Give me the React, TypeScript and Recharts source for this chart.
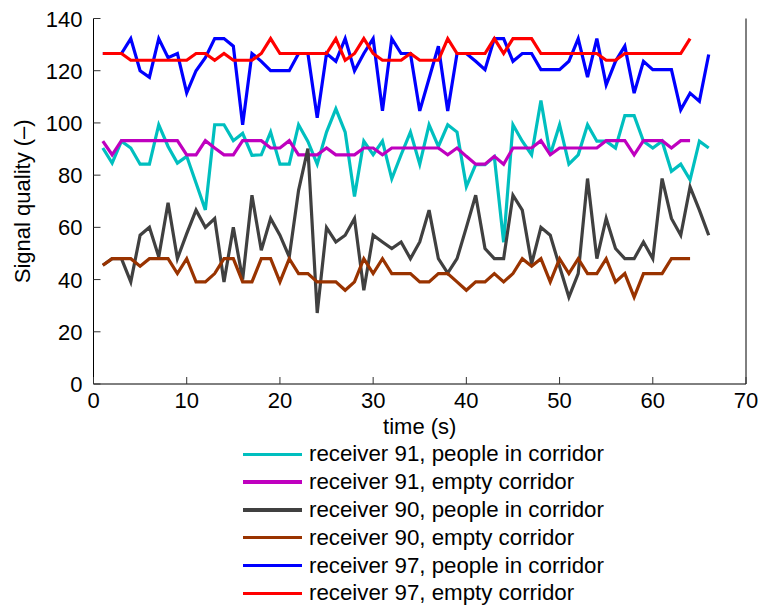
import React from 'react';
import { LineChart, Line, XAxis, YAxis, Legend } from 'recharts';

// time stamps (s)
const time = [
  1, 2, 3, 4, 5, 6, 7, 8, 9, 10, 11, 12, 13, 14, 15, 16, 17, 18, 19, 20, 21, 22,
  23, 24, 25, 26, 27, 28, 29, 30, 31, 32, 33, 34, 35, 36, 37, 38, 39, 40, 41, 42,
  43, 44, 45, 46, 47, 48, 49, 50, 51, 52, 53, 54, 55, 56, 57, 58, 59, 60, 61, 62,
  63, 64, 65, 66,
];

const rx91People = [
  90.4, 84.6, 93, 90.4, 84.2, 84.2, 99.3, 91, 84.6, 87.2, 77, 66.7, 99.3, 99.3, 93.2, 96,
  87.6, 87.8, 96.5, 84.2, 84.2, 99.3, 92.9, 84.2, 96.5, 105.4, 96.5, 71.8, 93, 87.8, 93, 78.6,
  87.8, 96.5, 84.2, 99.3, 91, 99.3, 96.5, 75.6, 84, 84, 87, 54.3, 99.3, 93, 87.8, 108.6,
  87.8, 99.3, 84.2, 87.8, 99.3, 93, 93, 90.4, 102.8, 102.8, 93, 90.4, 93, 81.5, 84.2, 78.2,
  93, 90.4,
];

const rx91Empty = [
  93, 87.8, 93.2, 93.2, 93.2, 93.2, 93.2, 93.2, 93.2, 87.8, 87.8, 93.2, 90.4, 87.8, 87.8, 93.2,
  93.2, 93.2, 90.4, 90.4, 93.2, 87.8, 87.8, 87.8, 90.4, 87.8, 87.8, 87.8, 90.4, 90.4, 87.8, 90.4,
  90.4, 90.4, 90.4, 90.4, 90.4, 87.8, 90.4, 87.2, 84.2, 84.2, 87.2, 84.2, 90.4, 90.4, 90.4, 93.2,
  87.8, 90.4, 90.4, 90.4, 90.4, 90.4, 93.2, 93.2, 93.2, 87.8, 93.2, 93.2, 93.2, 90.4, 93.2, 93.2,
];

const rx90People = [
  45.5, 48, 48, 39.1, 57, 60, 48.7, 69.4, 48, 57.6, 66.6, 60, 63.4, 39.1, 60, 40,
  72.3, 51.2, 63.4, 57, 48.7, 74.2, 90.2, 27.2, 59.9, 54.4, 57, 63.4, 35.9, 57, 54.4, 51.9,
  54.4, 48, 54.4, 66.6, 48, 42.5, 48, 60, 72.3, 51.9, 48, 48, 72.3, 66.6, 46, 60,
  57, 45, 33.3, 42.3, 78.7, 48, 63.4, 51.9, 48, 48, 54.4, 48, 78.7, 63.4, 57, 75.5,
  66.6, 57,
];

const rx90Empty = [
  45.5, 48, 48, 48, 45.1, 48, 48, 48, 42.3, 48, 39.1, 39.1, 42.3, 48, 48, 39.1,
  39.1, 48, 48, 39.1, 48, 42.3, 42.3, 39.1, 39.1, 39.1, 35.9, 39.1, 48, 42.3, 48, 42.3,
  42.3, 42.3, 39.1, 39.1, 42.3, 42.3, 39.1, 35.9, 39.1, 39.1, 42.3, 39.1, 42.3, 48, 45.1, 48,
  39.1, 48, 42.3, 48, 42.3, 42.3, 48, 39.1, 42.3, 33.3, 42.3, 42.3, 42.3, 48, 48, 48,
];

const rx97People = [
  126.6, 126.6, 126.6, 132.3, 120, 117.5, 132.3, 125, 126.6, 111.5, 120, 125, 132.3, 132.3, 129.4, 99.3,
  126.6, 123.6, 120, 120, 120, 126.6, 126.6, 102, 126.6, 123.6, 132.3, 120, 126.6, 132.3, 104.6, 132.3,
  126.6, 126.6, 104.6, 117, 129.4, 104.6, 126.6, 126.6, 123.6, 120.4, 132.3, 132.3, 123.6, 126.6, 126.6, 120.4,
  120.4, 120.4, 123.6, 132.3, 117.5, 132.3, 114.6, 123.6, 129.4, 111.4, 123.6, 120.4, 120.4, 120.4, 105, 111.4,
  108.3, 126.2,
];

const rx97Empty = [
  126.6, 126.6, 126.6, 124, 124, 124, 124, 124, 124, 124, 126.6, 126.6, 124, 126.6, 124, 124,
  124, 126.6, 132.3, 126.6, 126.6, 126.6, 126.6, 126.6, 126.6, 132.3, 124, 126.6, 132.3, 126.6, 124, 124,
  124, 126.6, 124, 124, 124, 132.3, 126.6, 126.6, 126.6, 126.6, 132.3, 126.6, 132.3, 132.3, 132.3, 126.6,
  126.6, 126.6, 126.6, 126.6, 126.6, 126.6, 124, 124, 126.6, 126.6, 126.6, 126.6, 126.6, 126.6, 126.6, 132.3,
];

const xTicks = [0, 10, 20, 30, 40, 50, 60, 70];
const yTicks = [0, 20, 40, 60, 80, 100, 120, 140];

const series = [
  { key: 'rx91People', name: 'receiver 91, people in corridor', color: '#00BFBF', values: rx91People },
  { key: 'rx91Empty', name: 'receiver 91, empty corridor', color: '#BF00BF', values: rx91Empty },
  { key: 'rx90People', name: 'receiver 90, people in corridor', color: '#404040', values: rx90People },
  { key: 'rx90Empty', name: 'receiver 90, empty corridor', color: '#993300', values: rx90Empty },
  { key: 'rx97People', name: 'receiver 97, people in corridor', color: '#0000FF', values: rx97People },
  { key: 'rx97Empty', name: 'receiver 97, empty corridor', color: '#FF0000', values: rx97Empty },
];

const data = time.map((t, i) => {
  const row: Record<string, number | undefined> = { time: t };
  series.forEach((s) => {
    row[s.key] = s.values[i];
  });
  return row;
});

const FONT = '"Liberation Sans", Arial, Helvetica, sans-serif';
const TICK_LEN = 7;
const TICK_COLOR = '#333';

const BottomTick = (props: any) => {
  const { x, y, payload } = props;
  return (
    <g>
      <line x1={x} y1={y} x2={x} y2={y - TICK_LEN} stroke={TICK_COLOR} />
      <text x={x} y={y + 24} textAnchor="middle" fontSize={22} fontFamily={FONT} fill="#000">
        {payload.value}
      </text>
    </g>
  );
};

const TopTick = (props: any) => {
  const { x, y } = props;
  return <line x1={x} y1={y} x2={x} y2={y + TICK_LEN} stroke={TICK_COLOR} />;
};

const LeftTick = (props: any) => {
  const { x, y, payload } = props;
  return (
    <g>
      <line x1={x} y1={y} x2={x + TICK_LEN} y2={y} stroke={TICK_COLOR} />
      <text x={x - 11} y={y + 8} textAnchor="end" fontSize={22} fontFamily={FONT} fill="#000">
        {payload.value}
      </text>
    </g>
  );
};

const RightTick = (props: any) => {
  const { x, y } = props;
  return <line x1={x} y1={y} x2={x - TICK_LEN} y2={y} stroke={TICK_COLOR} />;
};

const renderLegend = () => (
  <div style={{ fontFamily: FONT, fontSize: 22.3, color: '#000' }}>
    {series.map((s) => (
      <div key={s.key} style={{ display: 'flex', alignItems: 'center', height: 27.8 }}>
        <span
          style={{ display: 'inline-block', width: 59.4, height: 3.5, background: s.color, marginRight: 6.6 }}
        />
        <span style={{ whiteSpace: 'nowrap', lineHeight: '27.8px' }}>{s.name}</span>
      </div>
    ))}
  </div>
);

export default function App() {
  return (
    <div style={{ width: 763, height: 607, padding: '8px 0 8px 8px', boxSizing: 'border-box', overflow: 'hidden', background: '#fff' }}>
      <style>{'html, body { margin: 0; padding: 0; overflow: hidden; }'}</style>
      <LineChart
        width={755}
        height={591}
        data={data}
        margin={{ top: 10.5, right: 16, bottom: 165, left: 0 }}
      >
        <XAxis
          dataKey="time"
          type="number"
          domain={[0, 70]}
          ticks={xTicks}
          interval={0}
          height={50}
          tickSize={0}
          tickMargin={0}
          tickLine={false}
          axisLine={{ stroke: '#000', strokeWidth: 1 }}
          tick={BottomTick}
          label={{ value: 'time (s)', position: 'insideBottom', offset: 0, fontSize: 22, fill: '#000', fontFamily: FONT }}
        />
        <XAxis
          xAxisId="top"
          orientation="top"
          dataKey="time"
          type="number"
          domain={[0, 70]}
          ticks={xTicks}
          interval={0}
          height={0}
          tickSize={0}
          tickMargin={0}
          tickLine={false}
          axisLine={{ stroke: '#000', strokeWidth: 1 }}
          tick={TopTick}
        />
        <YAxis
          type="number"
          domain={[0, 140]}
          ticks={yTicks}
          interval={0}
          width={85.5}
          tickSize={0}
          tickMargin={0}
          tickLine={false}
          axisLine={{ stroke: '#000', strokeWidth: 1 }}
          tick={LeftTick}
          label={{
            value: 'Signal quality (–)',
            angle: -90,
            position: 'insideLeft',
            offset: 14,
            fontSize: 22,
            fill: '#000',
            fontFamily: FONT,
            style: { textAnchor: 'middle' },
          }}
        />
        <YAxis
          yAxisId="right"
          orientation="right"
          type="number"
          domain={[0, 140]}
          ticks={yTicks}
          interval={0}
          width={1}
          tickSize={0}
          tickMargin={0}
          tickLine={false}
          axisLine={{ stroke: '#000', strokeWidth: 1 }}
          tick={RightTick}
        />
        <Legend
          layout="horizontal"
          verticalAlign="middle"
          align="center"
          wrapperStyle={{ left: 235, top: 432.4, width: 440, height: 167, overflow: 'visible' }}
          content={renderLegend}
        />
        {series.map((s) => (
          <Line
            key={s.key}
            type="linear"
            dataKey={s.key}
            name={s.name}
            stroke={s.color}
            strokeWidth={3.2}
            dot={false}
            activeDot={false}
            isAnimationActive={false}
          />
        ))}
      </LineChart>
    </div>
  );
}
